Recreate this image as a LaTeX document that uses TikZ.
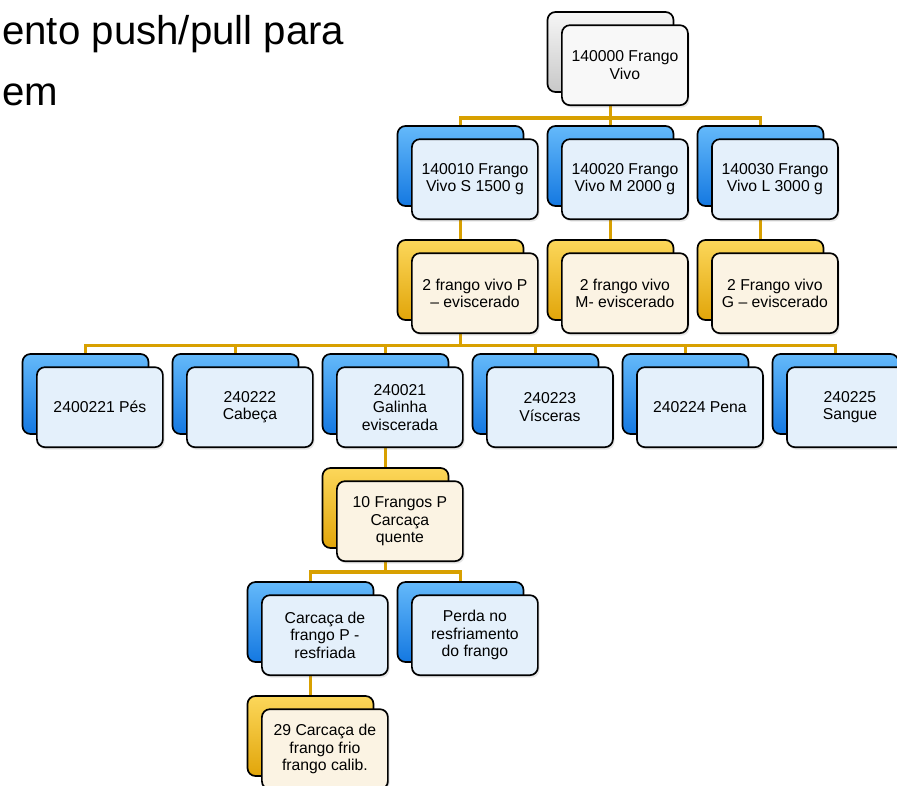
\documentclass[tikz,border=0pt]{standalone}
\usepackage{fontspec}
\setmainfont{Liberation Sans}
\usetikzlibrary{positioning,backgrounds,shadows}
\definecolor{linkcolor}{RGB}{216,160,0}
\definecolor{bluetop}{RGB}{100,185,250}
\definecolor{bluebot}{RGB}{20,120,225}
\definecolor{goldtop}{RGB}{252,215,90}
\definecolor{goldbot}{RGB}{225,165,10}
\definecolor{graytop}{RGB}{246,246,246}
\definecolor{graybot}{RGB}{200,200,200}
\definecolor{bluefill}{RGB}{228,240,251}
\definecolor{goldfill}{RGB}{251,243,227}
\definecolor{grayfill}{RGB}{248,248,248}

\begin{document}
\begin{tikzpicture}[
    node distance=0.85cm and 0.6cm,
    card/.style={rectangle, rounded corners=0.2cm, draw=black, line width=1.2pt, outer sep=0pt, minimum width=3.15cm, minimum height=2cm},
    blueback/.style={card, top color=bluetop, bottom color=bluebot},
    goldback/.style={card, top color=goldtop, bottom color=goldbot},
    grayback/.style={card, top color=graytop, bottom color=graybot},
    front/.style={card, align=center, inner sep=1pt, font=\fontsize{11.2}{12.4}\selectfont, drop shadow={opacity=0.2, shadow xshift=0.04cm, shadow yshift=-0.06cm}},
    bluefront/.style={front, fill=bluefill},
    goldfront/.style={front, fill=goldfill},
    grayfront/.style={front, fill=grayfill},
    link/.style={draw=linkcolor, line width=2.3pt}
]
\useasboundingbox (0,0) rectangle (22.425,-19.625);

% Title, cut at the left edge
\node[anchor=north west, align=left, inner sep=0pt, font=\fontsize{28.6}{43.5}\selectfont] (title) at (0.05,-0.38) {ento push/pull para\\em};

% Row of by-products
\node[blueback] (galinha) at (9.6375,-9.85) {};
\node[blueback, left=of galinha] (cabeca) {};
\node[blueback, left=of cabeca] (pes) {};
\node[blueback, right=of galinha] (visceras) {};
\node[blueback, right=of visceras] (pena) {};
\node[blueback, right=of pena] (sangue) {};

% Eviscerated and live birds above
\node[goldback, above=of galinha, xshift=1.875cm] (evisP) {};
\node[goldback, right=of evisP] (evisM) {};
\node[goldback, right=of evisM] (evisG) {};
\node[blueback, above=of evisP] (vivoS) {};
\node[blueback, above=of evisM] (vivoM) {};
\node[blueback, above=of evisG] (vivoL) {};
\node[grayback, above=of vivoM] (vivo) {};

% Carcass chain below
\node[goldback, below=of galinha] (quente) {};
\node[blueback, below=of quente, xshift=-1.875cm] (resfriada) {};
\node[blueback, right=of resfriada] (perda) {};
\node[goldback, below=of resfriada] (calib) {};

% Front cards with the texts
\node[grayfront] (vivoF) at ([shift={(0.36,-0.33)}]vivo.center) {140000 Frango\\Vivo};
\node[bluefront] (vivoSF) at ([shift={(0.36,-0.33)}]vivoS.center) {140010 Frango\\Vivo S 1500 g};
\node[bluefront] (vivoMF) at ([shift={(0.36,-0.33)}]vivoM.center) {140020 Frango\\Vivo M 2000 g};
\node[bluefront] (vivoLF) at ([shift={(0.36,-0.33)}]vivoL.center) {140030 Frango\\Vivo L 3000 g};
\node[goldfront] (evisPF) at ([shift={(0.36,-0.33)}]evisP.center) {2 frango vivo P\\– eviscerado};
\node[goldfront] (evisMF) at ([shift={(0.36,-0.33)}]evisM.center) {2 frango vivo\\M- eviscerado};
\node[goldfront] (evisGF) at ([shift={(0.36,-0.33)}]evisG.center) {2 Frango vivo\\G – eviscerado};
\node[bluefront] (pesF) at ([shift={(0.36,-0.33)}]pes.center) {2400221 Pés};
\node[bluefront] (cabecaF) at ([shift={(0.36,-0.33)}]cabeca.center) {240222\\Cabeça};
\node[bluefront] (galinhaF) at ([shift={(0.36,-0.33)}]galinha.center) {240021\\Galinha\\eviscerada};
\node[bluefront] (viscerasF) at ([shift={(0.36,-0.33)}]visceras.center) {240223\\Vísceras};
\node[bluefront] (penaF) at ([shift={(0.36,-0.33)}]pena.center) {240224 Pena};
\node[bluefront] (sangueF) at ([shift={(0.36,-0.33)}]sangue.center) {240225\\Sangue};
\node[goldfront] (quenteF) at ([shift={(0.36,-0.33)}]quente.center) {10 Frangos P\\Carcaça\\quente};
\node[bluefront] (resfriadaF) at ([shift={(0.36,-0.33)}]resfriada.center) {Carcaça de\\frango P -\\resfriada};
\node[bluefront] (perdaF) at ([shift={(0.36,-0.33)}]perda.center) {Perda no\\resfriamento\\do frango};
\node[goldfront] (calibF) at ([shift={(0.36,-0.33)}]calib.center) {29 Carcaça de\\frango frio\\frango calib.};

% Connectors behind the cards
\begin{pgfonlayer}{background}
\foreach \child in {vivoS,vivoM,vivoL}
  \draw[link] (vivo.center) |- ([yshift=0.2cm]\child.north) -- (\child.center);
\draw[link] (vivoS.center) -- (evisP.center);
\draw[link] (vivoM.center) -- (evisM.center);
\draw[link] (vivoL.center) -- (evisG.center);
\foreach \child in {pes,cabeca,galinha,visceras,pena,sangue}
  \draw[link] (evisP.center) |- ([yshift=0.22cm]\child.north) -- (\child.center);
\draw[link] (galinha.center) -- (quente.center);
\foreach \child in {resfriada,perda}
  \draw[link] (quente.center) |- ([yshift=0.25cm]\child.north) -- (\child.center);
\draw[link] (resfriada.center) -- (calib.center);
\end{pgfonlayer}

\end{tikzpicture}
\end{document}
